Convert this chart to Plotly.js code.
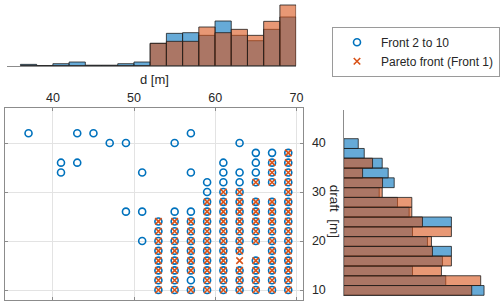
<!DOCTYPE html>
<html>
<head>
<meta charset="utf-8">
<script src="https://cdn.plot.ly/plotly-3.0.1.min.js"></script>
<style>html,body{margin:0;padding:0;background:#fff;}#chart{width:500px;height:306px;}</style>
</head>
<body>
<div id="chart"></div>
<script>
// ---- Scatter data: Front 2 to 10 (written row by row, draft from 42 down to 10)
const frontD = [
  37,43,45,57,
  47,49,55,63,
  65,67,69,
  41,43,61,65,67,69,
  41,51,57,61,63,65,67,69,
  59,61,63,65,67,69,
  59,61,63,69,
  59,61,63,65,67,69,
  49,51,55,57,59,61,63,65,67,69,
  53,55,57,59,61,63,65,67,69,
  53,55,57,59,61,63,65,67,69,
  51,53,55,57,59,61,63,65,67,69,
  53,55,57,59,61,63,67,69,
  53,55,57,59,61,65,67,69,
  53,55,57,59,61,63,65,67,69,
  53,55,57,59,61,63,65,67,69,
  53,55,57,59,61,63,65,67,69
];
const frontDraft = [
  42,42,42,42,
  40,40,40,40,
  38,38,38,
  36,36,36,36,36,36,
  34,34,34,34,34,34,34,34,
  32,32,32,32,32,32,
  30,30,30,30,
  28,28,28,28,28,28,
  26,26,26,26,26,26,26,26,26,26,
  24,24,24,24,24,24,24,24,24,
  22,22,22,22,22,22,22,22,22,
  20,20,20,20,20,20,20,20,20,20,
  18,18,18,18,18,18,18,18,
  16,16,16,16,16,16,16,16,
  14,14,14,14,14,14,14,14,14,
  12,12,12,12,12,12,12,12,12,
  10,10,10,10,10,10,10,10,10
];
// ---- Scatter data: Pareto front (Front 1)
const paretoD = [
  69,
  67,69,
  67,69,
  65,67,69,
  61,63,69,
  59,61,63,65,67,69,
  59,61,63,65,67,69,
  53,55,57,59,61,63,65,67,69,
  53,55,57,59,61,63,65,67,69,
  53,55,57,59,61,63,65,67,69,
  53,55,57,59,61,63,67,69,
  53,55,57,59,61,63,65,67,69,
  53,55,57,59,61,63,65,67,69,
  53,55,59,61,63,65,67,69,
  53,55,57,59,61,63,65,67,69
];
const paretoDraft = [
  38,
  36,36,
  34,34,
  32,32,32,
  30,30,30,
  28,28,28,28,28,28,
  26,26,26,26,26,26,
  24,24,24,24,24,24,24,24,24,
  22,22,22,22,22,22,22,22,22,
  20,20,20,20,20,20,20,20,20,
  18,18,18,18,18,18,18,18,
  16,16,16,16,16,16,16,16,16,
  14,14,14,14,14,14,14,14,14,
  12,12,12,12,12,12,12,12,
  10,10,10,10,10,10,10,10,10
];

// ---- Marginal histogram of d (bin centres, bin width 2), relative heights
const dBinCenters = [37,39,41,43,45,47,49,51,53,55,57,59,61,63,65,67,69];
const dHistFront  = [4,0,6,11,1.5,1.5,6,11,67,97,99,91,134,91,75,109,146];
const dHistPareto = [0,0,0,0,0,0,0,0,67,73,73,116,99,109,91,133,182];

// ---- Marginal histogram of draft (bin centres, bin width 2), relative lengths
const draftBinCenters = [11,13,15,17,19,21,23,25,27,29,31,33,35,37,39,41];
const draftHistFront  = [422,307,207,297,324,252,207,324,197,162,107,152,134,116,62,44];
const draftHistPareto = [385,412,294,324,267,264,324,237,205,205,116,117,57,87,0,0];

const xTicks = [40,50,60,70];
const yTicks = [10,20,30,40];

const BLUE = '#0072BD', ORANGE = '#D95319';
const FONT = 'Liberation Sans, Arial, sans-serif';
const W = 500, H = 306;
const px = v => v / W;
const py = v => 1 - v / H;

const traces = [
  {type:'scatter', mode:'markers', x: frontD, y: frontDraft, name:'Front 2 to 10',
   xaxis:'x', yaxis:'y',
   marker:{symbol:'circle-open', size:7, color:BLUE, line:{width:1.6, color:BLUE}}},
  {type:'scatter', mode:'markers', x: paretoD, y: paretoDraft, name:'Pareto front (Front 1)',
   xaxis:'x', yaxis:'y',
   marker:{symbol:'x-thin-open', size:6.5, color:ORANGE, line:{width:1.6, color:ORANGE}}},
  {type:'bar', x: dBinCenters, y: dHistFront, width:2, xaxis:'x2', yaxis:'y2', showlegend:false,
   marker:{color:'rgba(0,114,189,0.6)', line:{color:'rgba(30,30,30,0.8)', width:1}}, hoverinfo:'skip'},
  {type:'bar', x: dBinCenters, y: dHistPareto, width:2, xaxis:'x2', yaxis:'y2', showlegend:false,
   marker:{color:'rgba(217,83,25,0.6)', line:{color:'rgba(30,30,30,0.8)', width:1}}, hoverinfo:'skip'},
  {type:'bar', orientation:'h', y: draftBinCenters, x: draftHistFront, width:2, xaxis:'x3', yaxis:'y3', showlegend:false,
   marker:{color:'rgba(0,114,189,0.6)', line:{color:'rgba(30,30,30,0.8)', width:1}}, hoverinfo:'skip'},
  {type:'bar', orientation:'h', y: draftBinCenters, x: draftHistPareto, width:2, xaxis:'x3', yaxis:'y3', showlegend:false,
   marker:{color:'rgba(217,83,25,0.6)', line:{color:'rgba(30,30,30,0.8)', width:1}}, hoverinfo:'skip'}
];

const AX = '#8c8c8c', GRID = '#e3e3e3', TXT = '#262626';

const layout = {
  width: W, height: H,
  margin:{l:0, r:0, t:0, b:0, pad:0},
  paper_bgcolor:'#ffffff', plot_bgcolor:'rgba(0,0,0,0)',
  font:{family:FONT, size:12, color:TXT},
  barmode:'overlay', bargap:0,
  showlegend:true,
  legend:{x:px(332.7), y:py(51.8), xanchor:'left', yanchor:'middle',
          bgcolor:'#ffffff', bordercolor:'#9a9a9a', borderwidth:1, itemwidth:38,
          font:{family:FONT, size:12, color:TXT}, tracegroupgap:0},
  xaxis:{domain:[px(5), px(304)], range:[34.1, 70.86], anchor:'y', side:'top',
         tickvals:xTicks, ticktext:xTicks.map(String), ticks:'inside', ticklen:3, tickcolor:AX,
         showline:true, linecolor:AX, linewidth:1, mirror:'ticks',
         showgrid:true, gridcolor:GRID, zeroline:false,
         tickfont:{family:FONT, size:12.5, color:TXT}},
  yaxis:{domain:[py(300), py(108.3)], range:[7.96, 47.1], anchor:'x', side:'right',
         tickvals:yTicks, ticktext:yTicks.map(String), ticks:'inside', ticklen:3, tickcolor:AX,
         showline:true, linecolor:AX, linewidth:1, mirror:'ticks',
         showgrid:true, gridcolor:GRID, zeroline:false, ticklabelstandoff:5,
         tickfont:{family:FONT, size:12.5, color:TXT}},
  xaxis2:{domain:[px(6.7), px(296.7)], range:[34.3, 70], anchor:'y2',
          showline:true, linecolor:AX, linewidth:1, showgrid:false, zeroline:false,
          showticklabels:false, ticks:''},
  yaxis2:{domain:[py(65.7), py(3)], range:[0, 188], anchor:'x2',
          visible:false},
  xaxis3:{domain:[px(344.3), px(490)], range:[0, 437], anchor:'y3', visible:false},
  yaxis3:{domain:[py(296), py(110)], range:[9.86, 47.86], anchor:'x3', side:'left',
          showline:true, linecolor:AX, linewidth:1, showgrid:false, zeroline:false,
          showticklabels:false, ticks:''},
  annotations:[
    {text:'d [m]', xref:'paper', yref:'paper', x:px(155), y:py(79.5), xanchor:'center', yanchor:'middle',
     showarrow:false, font:{family:FONT, size:13, color:TXT}},
    {text:'draft  [m]', xref:'paper', yref:'paper', x:px(336), y:py(211), xanchor:'center', yanchor:'middle',
     textangle:90, showarrow:false, font:{family:FONT, size:13.5, color:TXT}}
  ]
};

Plotly.newPlot('chart', traces, layout, {staticPlot:true, displayModeBar:false});
</script>
</body>
</html>
